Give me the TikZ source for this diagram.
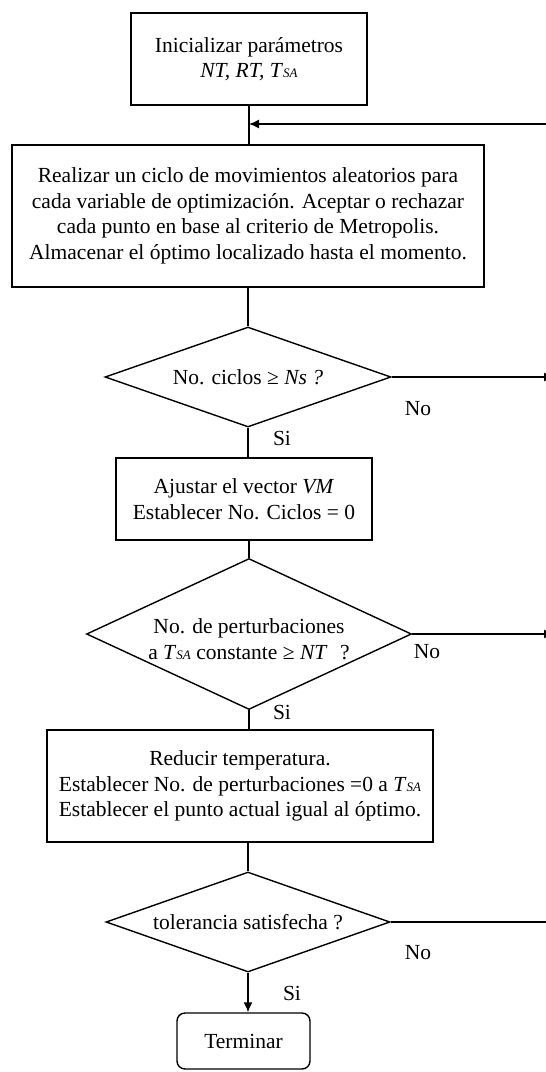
\documentclass[tikz,border=0pt]{standalone}
\usepackage{fontspec}
\setmainfont{Liberation Serif}
\usetikzlibrary{arrows.meta,shapes.geometric}
\newcommand{\Tsa}{\textit{T}{\fontsize{13}{13}\selectfont\textit{SA}}}
\begin{document}
\begin{tikzpicture}[x=1pt,y=-1pt,
  font=\fontsize{21.5}{25.5}\selectfont,
  line width=1.4pt,
  procbox/.style={draw, rectangle, align=center, inner sep=0pt},
  decbox/.style={draw, diamond, inner sep=0pt},
  endbox/.style={draw, rectangle, rounded corners=8pt, align=center, inner sep=0pt},
  lbl/.style={inner sep=0pt},
  arr/.style={-{Latex[length=10pt,width=9pt]}}]
\clip (0,0) rectangle (546,1072);
\node[procbox, minimum width=236pt, minimum height=92pt] (b1) at (249,59)
  {Inicializar parámetros\\ \textit{NT, RT,} \Tsa};
\node[procbox, minimum width=472pt, minimum height=142pt] (b2) at (248,216)
  {Realizar un ciclo de movimientos aleatorios para\\
   cada variable de optimización. Aceptar o rechazar\\
   cada punto en base al criterio de Metropolis.\\
   Almacenar el óptimo localizado hasta el momento.};
\node[decbox, minimum width=286pt, minimum height=100pt,
  label={[lbl]center:No. ciclos ≥ \textit{Ns ?}}] (d1) at (248,377) {};
\node[procbox, minimum width=256pt, minimum height=82pt] (b3) at (244,499)
  {Ajustar el vector \textit{VM}\\ Establecer No. Ciclos = 0};
\node[decbox, minimum width=325pt, minimum height=151pt,
  label={[lbl,align=center,yshift=-5pt]center:No. de perturbaciones\\ a \Tsa{} constante ≥ \textit{NT}\,\, ?}] (d2) at (249,634) {};
\node[procbox, minimum width=386pt, minimum height=112pt] (b4) at (240,786)
  {Reducir temperatura.\\ Establecer No. de perturbaciones =0 a \Tsa\\ Establecer el punto actual igual al óptimo.};
\node[decbox, minimum width=284pt, minimum height=100pt,
  label={[lbl]center:tolerancia satisfecha ?}] (d3) at (248,922) {};
\node[endbox, minimum width=133pt, minimum height=56pt] (t) at (243.5,1041) {Terminar};

\node[lbl] (no1) at (418,409) {No};
\node[lbl] (si1) at (282,438) {Si};
\node[lbl] (no2) at (427,652) {No};
\node[lbl] (si2) at (282,712) {Si};
\node[lbl] (no3) at (418,953) {No};
\node[lbl] (si3) at (292,993) {Si};

\coordinate (r0) at (560,124);
\coordinate (r1) at (554,377);
\coordinate (r2) at (554,634);
\coordinate (r3) at (560,922);

\draw (b1.south) -- (b1.south |- b2.north);
\draw[arr] (r0) -- (b1.south |- r0);
\draw (b2.south) -- (d1.north);
\draw (d1.south) -- (d1.south |- b3.north);
\draw (d2.north |- b3.south) -- (d2.north);
\draw (d2.south) -- (d2.south |- b4.north);
\draw (d3.north |- b4.south) -- (d3.north);
\draw[arr] (d3.south) -- (d3.south |- t.north);
\draw[arr] (d1.east) -- (r1);
\draw[arr] (d2.east) -- (r2);
\draw (d3.east) -- (r3);
\end{tikzpicture}
\end{document}
